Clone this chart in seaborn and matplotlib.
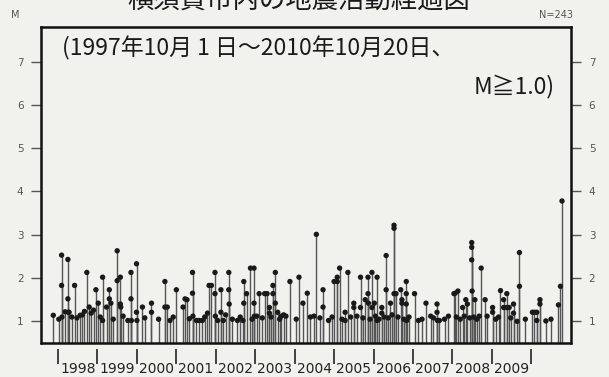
import matplotlib
matplotlib.use("Agg")
import matplotlib.pyplot as plt
import seaborn as sns
import pandas as pd

# Event times (decimal year) and magnitudes
event_time = [
    1997.88,
    1998.02, 1998.09, 1998.09, 1998.10, 1998.18, 1998.25, 1998.25, 1998.26, 1998.28,
    1998.35, 1998.42, 1998.48, 1998.56, 1998.62, 1998.67, 1998.73, 1998.79, 1998.84,
    1998.90, 1998.96,
    1999.02, 1999.07, 1999.13, 1999.13, 1999.23, 1999.30, 1999.30, 1999.34, 1999.40,
    1999.50, 1999.50, 1999.58, 1999.58, 1999.59, 1999.65, 1999.77, 1999.85, 1999.85,
    1999.86, 1999.99, 1999.99,
    2000.00, 2000.14, 2000.20, 2000.37, 2000.37, 2000.55, 2000.71, 2000.71, 2000.77,
    2000.84, 2000.92,
    2001.00, 2001.17, 2001.22, 2001.27, 2001.33, 2001.41, 2001.41, 2001.42, 2001.51,
    2001.58, 2001.66, 2001.72, 2001.79, 2001.83, 2001.89, 2001.98, 2001.98, 2001.99,
    2002.05, 2002.13, 2002.13, 2002.19, 2002.25, 2002.33, 2002.33, 2002.34, 2002.42,
    2002.55, 2002.62, 2002.69, 2002.71, 2002.71, 2002.78, 2002.88, 2002.92, 2002.97,
    2002.97, 2002.98,
    2003.04, 2003.10, 2003.18, 2003.24, 2003.30, 2003.36, 2003.36, 2003.40, 2003.45,
    2003.45, 2003.51, 2003.51, 2003.57, 2003.62, 2003.66, 2003.72, 2003.78, 2003.88,
    2004.04, 2004.11, 2004.21, 2004.32, 2004.40, 2004.49, 2004.55, 2004.64, 2004.72,
    2004.72, 2004.86, 2004.95,
    2005.00, 2005.08, 2005.08, 2005.14, 2005.20, 2005.28, 2005.28, 2005.35, 2005.42,
    2005.50, 2005.50, 2005.58, 2005.67, 2005.67, 2005.73, 2005.79, 2005.86, 2005.86,
    2005.87, 2005.91, 2005.96, 2005.96,
    2006.02, 2006.05, 2006.09, 2006.09, 2006.14, 2006.21, 2006.21, 2006.27, 2006.32,
    2006.32, 2006.37, 2006.43, 2006.47, 2006.52, 2006.52, 2006.52, 2006.57, 2006.62,
    2006.69, 2006.72, 2006.72, 2006.77, 2006.83, 2006.83, 2006.83, 2006.84, 2006.90,
    2007.04, 2007.14, 2007.23, 2007.33, 2007.45, 2007.52, 2007.61, 2007.61, 2007.62,
    2007.67, 2007.80, 2007.90,
    2008.04, 2008.07, 2008.10, 2008.14, 2008.20, 2008.26, 2008.30, 2008.34, 2008.38,
    2008.44, 2008.49, 2008.49, 2008.49, 2008.50, 2008.54, 2008.57, 2008.62, 2008.68,
    2008.73, 2008.83, 2008.88,
    2009.02, 2009.02, 2009.10, 2009.17, 2009.22, 2009.30, 2009.30, 2009.38, 2009.38,
    2009.44, 2009.48, 2009.55, 2009.55, 2009.64, 2009.70, 2009.70, 2009.85,
    2010.03, 2010.08, 2010.14, 2010.14, 2010.22, 2010.22, 2010.37, 2010.50, 2010.69,
    2010.74, 2010.78,
]
magnitude = [
    1.14,
    1.05, 2.53, 1.83, 1.10, 1.22, 2.43, 1.52, 1.21, 1.21,
    1.10, 1.83, 1.08, 1.14, 1.15, 1.23, 2.13, 1.33, 1.19,
    1.26, 1.73,
    1.42, 1.10, 2.02, 1.02, 1.33, 1.73, 1.52, 1.42, 1.05,
    2.63, 1.94, 2.02, 1.40, 1.33, 1.12, 1.02, 2.13, 1.52,
    1.02, 2.33, 1.21,
    1.02, 1.33, 1.08, 1.42, 1.21, 1.05, 1.92, 1.33, 1.33,
    1.02, 1.10,
    1.73, 1.33, 1.52, 1.50, 1.06, 2.13, 1.65, 1.12, 1.02,
    1.02, 1.02, 1.10, 1.19, 1.83, 1.83, 2.13, 1.64, 1.12,
    1.02, 1.73, 1.21, 1.02, 1.15, 2.13, 1.73, 1.40, 1.05,
    1.02, 1.10, 1.02, 1.92, 1.42, 1.64, 2.23, 1.05, 2.23,
    1.42, 1.12,
    1.12, 1.64, 1.08, 1.64, 1.64, 1.32, 1.19, 1.10, 1.83,
    1.64, 2.13, 1.42, 1.21, 1.05, 1.12, 1.15, 1.12, 1.92,
    1.05, 2.02, 1.42, 1.65, 1.10, 1.12, 3.01, 1.08, 1.73,
    1.33, 1.02, 1.10,
    1.92, 2.02, 1.92, 2.23, 1.05, 1.21, 1.02, 2.13, 1.10,
    1.42, 1.32, 1.12, 2.02, 1.32, 1.08, 1.50, 2.02, 1.64,
    1.42, 1.05, 2.13, 1.32,
    1.42, 1.12, 2.02, 1.02, 1.05, 1.32, 1.19, 1.10, 2.52,
    1.73, 1.08, 1.42, 1.15, 3.22, 3.15, 1.64, 1.64, 1.10,
    1.73, 1.50, 1.42, 1.05, 1.92, 1.64, 1.40, 1.02, 1.10,
    1.64, 1.02, 1.05, 1.42, 1.12, 1.08, 1.40, 1.21, 1.02,
    1.02, 1.05, 1.12,
    1.64, 1.65, 1.10, 1.70, 1.05, 1.32, 1.12, 1.50, 1.40,
    1.08, 2.82, 2.71, 2.42, 1.70, 1.10, 1.50, 1.05, 1.12,
    2.23, 1.50, 1.12,
    1.32, 1.21, 1.05, 1.10, 1.71, 1.50, 1.32, 1.64, 1.32,
    1.32, 1.08, 1.40, 1.19, 1.00, 2.59, 1.81, 1.05,
    1.21, 1.21, 1.21, 1.02, 1.50, 1.40, 1.01, 1.05, 1.38,
    1.81, 3.78,
]

year_bounds = list(range(1998, 2011))
year_labels = [str(y) for y in range(1998, 2010)]
m_ticks = [1, 2, 3, 4, 5, 6, 7]

title_text = "横須賀市内の地震活動経過図"
period_text = "(1997年10月 1 日～2010年10月20日、"
mag_text = "M≧1.0)"
count_text = "N=243"

df = pd.DataFrame({"time": event_time, "M": magnitude})

sns.set_style("ticks")
plt.rcParams["font.family"] = ["Noto Sans CJK JP", "DejaVu Sans"]

bg = "#f1f1ed"
fig = plt.figure(figsize=(6.09, 3.77), dpi=100, facecolor=bg)
ax = fig.add_axes([0.0681, 0.0902, 0.869, 0.8382], facecolor=bg)

base = 0.5
ax.set_xlim(1997.58, 2011.0)
ax.set_ylim(base, 7.8)

# stems from the baseline up to each magnitude, with a dot at the tip
ax.vlines(df["time"], base, df["M"], color="#555555", linewidth=1.0, zorder=2)
sns.scatterplot(data=df, x="time", y="M", ax=ax, color="#1a1a1a", s=15,
                edgecolor="none", zorder=3, legend=False)
ax.set_xlabel("")
ax.set_ylabel("")

# frame
for side in ["top", "left", "right"]:
    ax.spines[side].set_linewidth(1.8)
    ax.spines[side].set_color("#111111")
ax.spines["bottom"].set_position(("outward", 4))
ax.spines["bottom"].set_visible(False)
ax.plot([0, 1], [0, 0], transform=ax.transAxes, color="#111111", lw=1.8,
        clip_on=False, zorder=4)

# year boundaries as ticks, year names centred between them
ax.set_xticks(year_bounds)
ax.set_xticklabels([""] * len(year_bounds))
ax.set_xticks([y + 0.5 for y in range(1998, 2010)], minor=True)
ax.set_xticklabels(year_labels, minor=True)
ax.tick_params(axis="x", which="major", length=11, width=1.3, color="#333333",
               direction="out")
ax.tick_params(axis="x", which="minor", length=0, pad=10, labelsize=10,
               labelcolor="#222222")
for lab in ax.get_xticklabels(minor=True):
    lab.set_family(["DejaVu Sans"])

ax.set_yticks(m_ticks)
ax.set_yticklabels([str(m) for m in m_ticks])
ax.tick_params(axis="y", which="major", left=True, right=True, labelleft=True,
               labelright=True, length=7, width=1.0, color="#555555",
               labelsize=7.5, labelcolor="#555555", pad=6)
for lab in ax.get_yticklabels():
    lab.set_family(["DejaVu Sans"])

ax.text(0.039, 0.934, period_text, transform=ax.transAxes, fontsize=16.5,
        ha="left", va="center", color="#1a1a1a")
ax.text(0.970, 0.811, mag_text, transform=ax.transAxes, fontsize=16.5,
        ha="right", va="center", color="#1a1a1a")

fig.text(15 / 609, 1 - 15 / 377, "M", fontsize=7, color="#555555",
         ha="center", va="center", family=["DejaVu Sans"])
fig.text(556 / 609, 1 - 15 / 377, count_text, fontsize=7, color="#555555",
         ha="center", va="center", family=["DejaVu Sans"])
fig.text(0.491, 1.0, title_text, fontsize=19, ha="center", va="center",
         color="#1a1a1a")

fig.savefig("out.png", dpi=100, facecolor=bg)
